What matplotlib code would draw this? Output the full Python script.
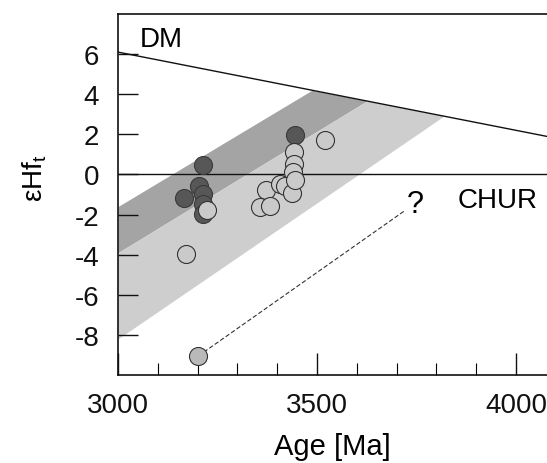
import numpy as np
import matplotlib
matplotlib.use("Agg")
import matplotlib.pyplot as plt

plt.rcParams['font.family'] = ['Liberation Sans', 'DejaVu Sans']
plt.rcParams['axes.unicode_minus'] = False
plt.rcParams['mathtext.fontset'] = 'custom'
plt.rcParams['mathtext.rm'] = 'Liberation Sans'

# Reference evolution lines (epsilon Hf at 3000 Ma and 4000 Ma)
dm_line = [6.1, 2.2]
chur_line = [0.0, 0.0]

# Crustal evolution bands, edges given at 3000 Ma and 4000 Ma
dark_band_top = [-1.6, 10.3]
dark_band_bottom = [-3.9, 8.2]
light_band_bottom = [-8.2, 5.37]

# Zircon analyses
dark_age = [3445, 3213, 3166, 3204, 3213, 3214, 3213]
dark_eps = [1.95, 0.49, -1.17, -0.58, -1.0, -1.47, -1.97]

light_age = [3224, 3172, 3520, 3442, 3442, 3440, 3432, 3372, 3358, 3382,
             3407, 3420, 3436, 3445]
light_eps = [-1.77, -3.97, 1.7, 1.1, 0.53, 0.12, -0.63, -0.8, -1.6, -1.55,
             -0.5, -0.6, -0.92, -0.3]

# Outlier with its inferred trajectory
outlier_age = [3202]
outlier_eps = [-9.05]
trend_age = [3202, 3721]
trend_eps = [-9.05, -1.8]

def line_at(ends, ages):
    return ends[0] + (ends[1] - ends[0]) * (np.asarray(ages) - 3000) / 1000.0

fig = plt.figure(figsize=(5.47, 4.64), dpi=100)
ax = fig.add_axes([118 / 547, 1 - 376 / 464, 1 - 118 / 547, (376 - 15) / 464])
ax.set_xlim(3000, 3000 + (547 - 118) / 0.398)
ax.set_ylim(-10, 8)

grid = np.linspace(3000, 4100, 600)
dm_vals = line_at(dm_line, grid)
top_d = np.minimum(line_at(dark_band_top, grid), dm_vals)
bot_d = np.minimum(line_at(dark_band_bottom, grid), dm_vals)
bot_l = np.minimum(line_at(light_band_bottom, grid), dm_vals)
ax.fill_between(grid, bot_d, top_d, where=top_d > bot_d, color='#a4a4a4',
                lw=0, zorder=1)
ax.fill_between(grid, bot_l, bot_d, where=bot_d > bot_l, color='#cecece',
                lw=0, zorder=1)

ax.plot(grid, dm_vals, color='#111111', lw=1.0, zorder=2)
ax.plot(grid, line_at(chur_line, grid), color='#111111', lw=1.0, zorder=2)

ax.plot(trend_age, trend_eps, color='#333333', lw=0.8, ls=(0, (4, 2)), zorder=3)

msize = 18 ** 2 * 0.52
ax.scatter(dark_age, dark_eps, s=msize, c='#575757',
           edgecolors='#3a3a3a', linewidths=0.8, zorder=4)
ax.scatter(light_age, light_eps, s=msize, c='#cacaca',
           edgecolors='#333333', linewidths=0.8, zorder=5)
ax.scatter(outlier_age, outlier_eps, s=msize, c='#b9b9b9',
           edgecolors='#333333', linewidths=0.8, zorder=5)

ax.text(3055, 6.4, 'DM', fontsize=20, ha='left', va='baseline')
ax.text(3854, -1.6, 'CHUR', fontsize=20, ha='left', va='baseline')
ax.text(3748, -1.85, '?', fontsize=22, ha='center', va='baseline')

ax.set_yticks([6, 4, 2, 0, -2, -4, -6, -8])
ax.set_yticklabels(['6', '4', '2', '0', '-2', '-4', '-6', '-8'])
ax.set_xticks([3000, 3500, 4000])
ax.set_xticks(np.arange(3100, 4100, 100), minor=True)
ax.tick_params(axis='y', direction='in', length=14.5, width=1.0, pad=13.5,
               labelsize=20, colors='#111111')
ax.tick_params(axis='x', which='major', direction='in', length=16, width=1.0,
               pad=12, labelsize=20, colors='#111111')
ax.tick_params(axis='x', which='minor', direction='in', length=9, width=0.8)
for side in ['left', 'bottom', 'top']:
    ax.spines[side].set_linewidth(1.2)
    ax.spines[side].set_color('#111111')
ax.spines['right'].set_visible(False)

ax.set_xlabel('Age [Ma]', fontsize=21, labelpad=10)
fig.text(0.064, 0.616, r'εHf$_\mathregular{t}$', rotation=90, fontsize=20,
         ha='center', va='center')

fig.savefig('out.png', dpi=100, facecolor='white')
